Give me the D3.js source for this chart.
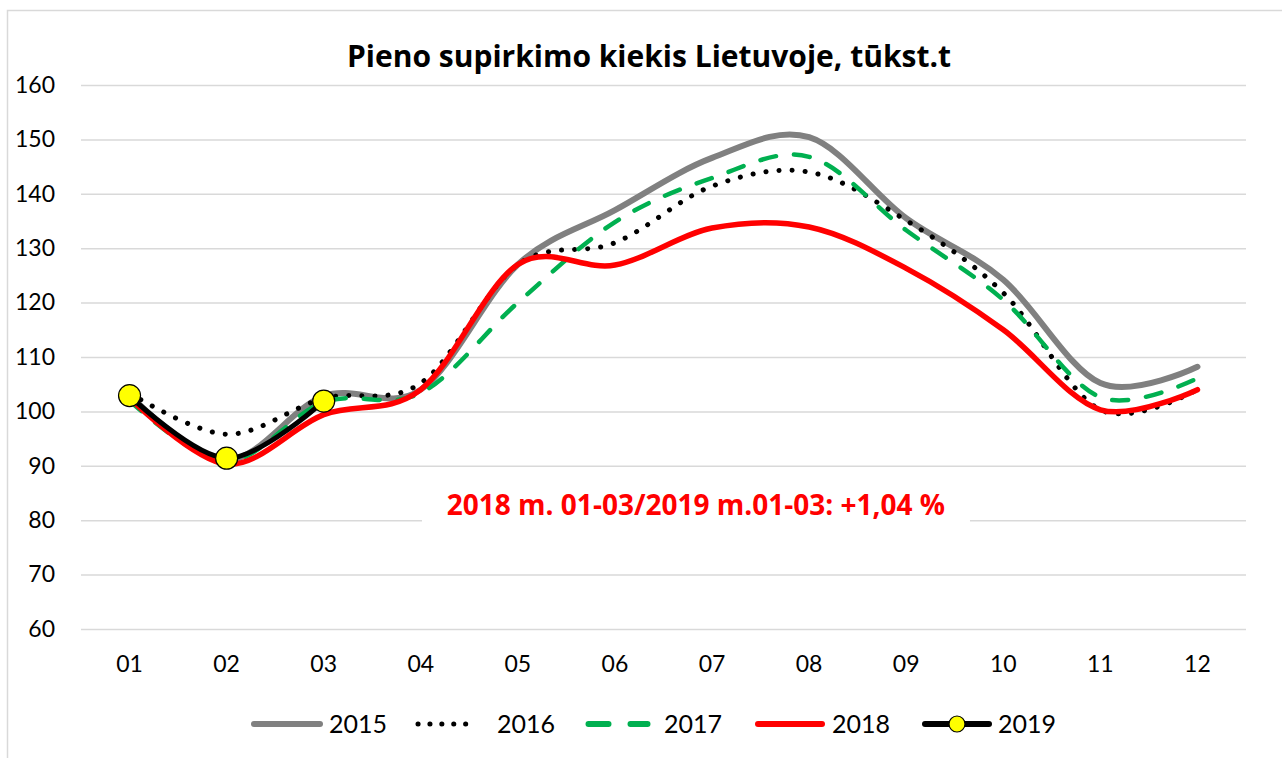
<!DOCTYPE html>
<html>
<head>
<meta charset="utf-8">
<script src="https://cdn.jsdelivr.net/npm/d3@7"></script>
<style>
  body { margin: 0; background: #fff; }
  svg { display: block; font-family: Lato, "Open Sans", sans-serif; }
</style>
</head>
<body>
<div class="vis1"></div>
<script>
// data
const MONTHS = ["01","02","03","04","05","06","07","08","09","10","11","12"];
const Y_TICKS = [60,70,80,90,100,110,120,130,140,150,160];
const YEARS = ["2015","2016","2017","2018","2019"];
const V2015 = [103, 91, 102.8, 104, 127, 137, 146.6, 150.4, 135.5, 124.2, 105.2, 108.2];
const V2016 = [103.4, 95.8, 102.4, 105.2, 127, 131, 141.4, 144, 135.1, 121.8, 100.3, 104];
const V2017 = [102, 90.8, 101.7, 103.4, 120, 134.8, 142.9, 146.8, 133.3, 120.5, 102.6, 106.1];
const V2018 = [102.5, 90.3, 99.4, 104, 127, 126.9, 133.7, 133.9, 126.3, 115, 100.3, 104];
const V2019 = [102.9, 91.4, 101.9];

const TITLE = "Pieno supirkimo kiekis Lietuvoje, tūkst.t";
const NOTE = "2018 m. 01-03/2019 m.01-03: +1,04 %";

// frame dimensions
const FRAME_WIDTH = 1282;
const FRAME_HEIGHT = 758;
const MARGINS = {left: 81, right: 36, top: 85, bottom: 129};
const VIS_WIDTH = FRAME_WIDTH - MARGINS.left - MARGINS.right;
const VIS_HEIGHT = FRAME_HEIGHT - MARGINS.top - MARGINS.bottom;

const FRAME = d3.select('.vis1')
  .append('svg')
    .attr('width', FRAME_WIDTH)
    .attr('height', FRAME_HEIGHT);

// outer chart border
FRAME.append('rect')
  .attr('x', 7.5).attr('y', 10.5)
  .attr('width', FRAME_WIDTH + 20).attr('height', FRAME_HEIGHT + 20)
  .attr('fill', '#fff')
  .attr('stroke', '#d9d9d9')
  .attr('stroke-width', 1.5);

const X_SCALE = d3.scaleBand()
  .domain(MONTHS)
  .range([0, VIS_WIDTH]);

const Y_SCALE = d3.scaleLinear()
  .domain([60, 160])
  .range([VIS_HEIGHT, 0]);

const G = FRAME.append('g')
  .attr('transform', `translate(${MARGINS.left},${MARGINS.top})`);

// gridlines
G.append('g')
  .call(d3.axisLeft(Y_SCALE).tickValues(Y_TICKS).tickSize(-VIS_WIDTH).tickFormat(''))
  .call(g => g.select('.domain').remove())
  .call(g => g.selectAll('line').attr('stroke', '#d9d9d9').attr('stroke-width', 1.5));

// y labels
G.append('g')
  .call(d3.axisLeft(Y_SCALE).tickValues(Y_TICKS).tickSize(0).tickPadding(26))
  .call(g => g.select('.domain').remove())
  .call(g => g.selectAll('text')
    .attr('font-size', '23px').attr('fill', '#000')
    .attr('font-family', 'Lato, sans-serif'));

// x labels
G.append('g')
  .attr('transform', `translate(0,${VIS_HEIGHT})`)
  .call(d3.axisBottom(X_SCALE).tickSize(0).tickPadding(27))
  .call(g => g.select('.domain').remove())
  .call(g => g.selectAll('text')
    .attr('font-size', '23px').attr('fill', '#000')
    .attr('font-family', 'Lato, sans-serif'));

// annotation with white box behind it
const NOTE_X = X_SCALE('06') + X_SCALE.bandwidth() / 2 + 81;
G.append('rect')
  .attr('x', NOTE_X - 274).attr('y', Y_SCALE(83))
  .attr('width', 548).attr('height', 30)
  .attr('fill', '#fff');

G.append('text')
  .attr('x', NOTE_X)
  .attr('y', Y_SCALE(80) - 5)
  .attr('text-anchor', 'middle')
  .attr('font-family', '"Open Sans", sans-serif')
  .attr('font-size', '28px')
  .attr('font-weight', 'bold')
  .attr('fill', '#ff0000')
  .text(NOTE);

const line = d3.line()
  .x((d, i) => X_SCALE(MONTHS[i]) + X_SCALE.bandwidth() / 2)
  .y(d => Y_SCALE(d))
  .curve(d3.curveCatmullRom.alpha(0));

const SERIES = [
  {name: YEARS[0], values: V2015, color: '#808080', width: 6, dash: null},
  {name: YEARS[1], values: V2016, color: '#000000', width: 5, dash: '0.1,13'},
  {name: YEARS[2], values: V2017, color: '#00b050', width: 4.5, dash: '16,18'},
  {name: YEARS[3], values: V2018, color: '#ff0000', width: 5.5, dash: null},
  {name: YEARS[4], values: V2019, color: '#000000', width: 5, dash: null}
];

G.selectAll('.series')
  .data(SERIES)
  .enter().append('path')
    .attr('class', 'series')
    .attr('d', d => line(d.values))
    .attr('fill', 'none')
    .attr('stroke', d => d.color)
    .attr('stroke-width', d => d.width)
    .attr('stroke-dasharray', d => d.dash)
    .attr('stroke-linecap', 'round')
    .attr('stroke-linejoin', 'round');

// 2019 markers
G.selectAll('.marker')
  .data(V2019)
  .enter().append('circle')
    .attr('class', 'marker')
    .attr('cx', (d, i) => X_SCALE(MONTHS[i]) + X_SCALE.bandwidth() / 2)
    .attr('cy', d => Y_SCALE(d))
    .attr('r', 11)
    .attr('fill', '#ffff00')
    .attr('stroke', '#000')
    .attr('stroke-width', 1.2);

// title
FRAME.append('text')
  .attr('x', 649).attr('y', 67)
  .attr('text-anchor', 'middle')
  .attr('font-family', '"Open Sans", sans-serif')
  .attr('font-size', '30px')
  .attr('font-weight', 'bold')
  .attr('fill', '#000')
  .text(TITLE);

// legend: line start, line end, text start
const LEG = [[251, 323, 329], [418, 477, 497], [586, 650, 664], [755, 825, 832], [922, 992, 998]];
const LEG_DASH = [null, '0.1,11.8', '20,22', null, null];
const LEGEND = FRAME.append('g').attr('transform', 'translate(0,724)');
SERIES.forEach((s, i) => {
  const [x0, x1, tx] = LEG[i];
  const cap = s.dash ? (i === 1 ? 0 : 2.5) : 3;
  LEGEND.append('line')
    .attr('x1', x0 + cap).attr('x2', x1 - cap)
    .attr('y1', 0).attr('y2', 0)
    .attr('stroke', s.color)
    .attr('stroke-width', i === 1 ? 5 : 6)
    .attr('stroke-dasharray', LEG_DASH[i])
    .attr('stroke-linecap', 'round');
  if (i === 4) {
    LEGEND.append('circle')
      .attr('cx', (x0 + x1) / 2).attr('cy', 0)
      .attr('r', 8)
      .attr('fill', '#ffff00').attr('stroke', '#000').attr('stroke-width', 1.2);
  }
  LEGEND.append('text')
    .attr('x', tx)
    .attr('y', 9)
    .attr('font-size', '25px')
    .attr('fill', '#000')
    .text(s.name);
});
</script>
</body>
</html>
